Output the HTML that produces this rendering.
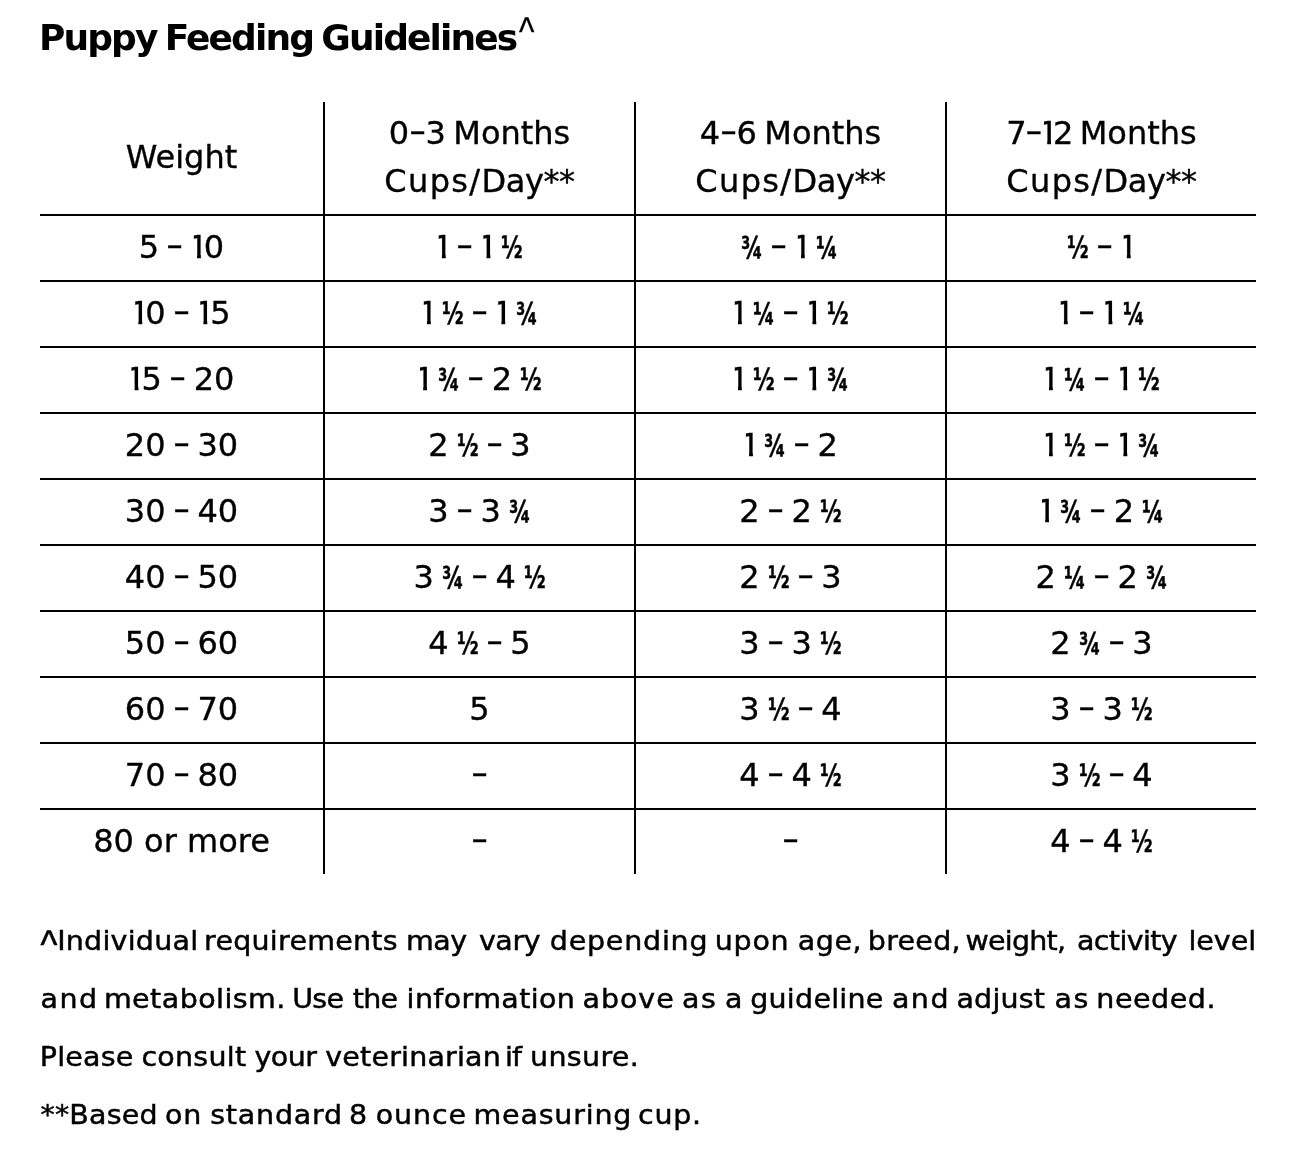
<!DOCTYPE html>
<html lang="en">
<head>
<meta charset="utf-8">
<title>Puppy Feeding Guidelines</title>
<style>
html,body{margin:0;padding:0;background:#fff;}
body{width:1304px;height:1156px;position:relative;overflow:hidden;color:#000;
 font-family:"DejaVu Sans","Liberation Sans",sans-serif;}
.title{position:absolute;left:39px;top:10.7px;margin:0;font-family:"DejaVu Sans","Liberation Sans",sans-serif;
 font-weight:bold;font-size:36px;line-height:54px;white-space:nowrap;letter-spacing:-1.9px;word-spacing:-2.3px;}
.title sup{display:inline-block;font-family:"Liberation Sans",sans-serif;font-weight:normal;font-size:32.7px;vertical-align:baseline;letter-spacing:0;line-height:0;margin-left:2.8px;transform:translateY(-7.6px) scaleY(1.25);-webkit-text-stroke:0.3px #000;}
table.feed{position:absolute;left:40px;top:102px;width:1216px;border-collapse:separate;border-spacing:0;table-layout:fixed;}
table.feed th,table.feed td{box-sizing:border-box;font-weight:normal;font-size:32px;line-height:48px;
 text-align:center;padding:6.9px 0 9.1px 0;-webkit-text-stroke:0.35px #000;border-right:2px solid #000;border-bottom:2px solid #000;white-space:nowrap;}
table.feed th{height:114px;word-spacing:-2.8px;}
.cd{letter-spacing:-0.4px;}
.c1{letter-spacing:1.35px;}
.n712{letter-spacing:-1px;}
table.feed td{height:66px;}
table.feed th:first-child,table.feed td:first-child{width:285px;}
table.feed th:nth-child(2),table.feed td:nth-child(2),table.feed th:nth-child(3),table.feed td:nth-child(3){width:311px;}
table.feed th:last-child,table.feed td:last-child{width:309px;border-right:none;}
table.feed tbody tr:last-child td{border-bottom:none;height:64px;}
.fr{display:inline-block;font-weight:bold;transform:scale(.653,.95);transform-origin:0 35.5px;margin:0 -11.5px 0 -2px;-webkit-text-stroke:0.5px #000;}
.one{display:inline-block;margin:0 -4.8px 0 -2.8px;clip-path:polygon(5.6px 0,12.6px 0,12.6px 100%,8.8px 100%,8.8px 31.5px,5.6px 31.5px);}
.hy{display:inline-block;transform:translateY(-1.8px) scale(1.5,1.0);transform-origin:50% 26.3px;}
.hh{margin:0 2.5px;}
.notes{position:absolute;left:0;top:912px;width:1304px;}
.notes p{position:relative;margin:0;height:58px;font-size:28.5px;line-height:58px;white-space:nowrap;-webkit-text-stroke:0.5px #000;transform:scaleY(.961);transform-origin:0 38.9px;}
.notes p span{position:absolute;top:0;}
.notes .car{left:40.6px;font-family:"Liberation Sans",sans-serif;font-size:36px;letter-spacing:0;-webkit-text-stroke:0.5px #000;transform:translateY(3.4px) scaleY(1.2);}

</style>
</head>
<body>
<h2 class="title">Puppy Feeding Guidelines<sup class="car">^</sup></h2>
<table class="feed">
<thead><tr><th>Weight</th><th>0<span class="hy hh">-</span>3 Months<br><span class="cd"><span class="c1">Cups/</span>Day**</span></th><th>4<span class="hy hh">-</span>6 Months<br><span class="cd"><span class="c1">Cups/</span>Day**</span></th><th><span class="n712">7<span class="hy hh">-</span><span class="one">1</span>2</span> Months<br><span class="cd"><span class="c1">Cups/</span>Day**</span></th></tr></thead>
<tbody>
<tr><td>5 <span class="hy">-</span> <span class="one">1</span>0</td><td><span class="one">1</span> <span class="hy">-</span> <span class="one">1</span> <span class="fr">½</span></td><td><span class="fr">¾</span> <span class="hy">-</span> <span class="one">1</span> <span class="fr">¼</span></td><td><span class="fr">½</span> <span class="hy">-</span> <span class="one">1</span></td></tr>
<tr><td><span class="one">1</span>0 <span class="hy">-</span> <span class="one">1</span>5</td><td><span class="one">1</span> <span class="fr">½</span> <span class="hy">-</span> <span class="one">1</span> <span class="fr">¾</span></td><td><span class="one">1</span> <span class="fr">¼</span> <span class="hy">-</span> <span class="one">1</span> <span class="fr">½</span></td><td><span class="one">1</span> <span class="hy">-</span> <span class="one">1</span> <span class="fr">¼</span></td></tr>
<tr><td><span class="one">1</span>5 <span class="hy">-</span> 20</td><td><span class="one">1</span> <span class="fr">¾</span> <span class="hy">-</span> 2 <span class="fr">½</span></td><td><span class="one">1</span> <span class="fr">½</span> <span class="hy">-</span> <span class="one">1</span> <span class="fr">¾</span></td><td><span class="one">1</span> <span class="fr">¼</span> <span class="hy">-</span> <span class="one">1</span> <span class="fr">½</span></td></tr>
<tr><td>20 <span class="hy">-</span> 30</td><td>2 <span class="fr">½</span> <span class="hy">-</span> 3</td><td><span class="one">1</span> <span class="fr">¾</span> <span class="hy">-</span> 2</td><td><span class="one">1</span> <span class="fr">½</span> <span class="hy">-</span> <span class="one">1</span> <span class="fr">¾</span></td></tr>
<tr><td>30 <span class="hy">-</span> 40</td><td>3 <span class="hy">-</span> 3 <span class="fr">¾</span></td><td>2 <span class="hy">-</span> 2 <span class="fr">½</span></td><td><span class="one">1</span> <span class="fr">¾</span> <span class="hy">-</span> 2 <span class="fr">¼</span></td></tr>
<tr><td>40 <span class="hy">-</span> 50</td><td>3 <span class="fr">¾</span> <span class="hy">-</span> 4 <span class="fr">½</span></td><td>2 <span class="fr">½</span> <span class="hy">-</span> 3</td><td>2 <span class="fr">¼</span> <span class="hy">-</span> 2 <span class="fr">¾</span></td></tr>
<tr><td>50 <span class="hy">-</span> 60</td><td>4 <span class="fr">½</span> <span class="hy">-</span> 5</td><td>3 <span class="hy">-</span> 3 <span class="fr">½</span></td><td>2 <span class="fr">¾</span> <span class="hy">-</span> 3</td></tr>
<tr><td>60 <span class="hy">-</span> 70</td><td>5</td><td>3 <span class="fr">½</span> <span class="hy">-</span> 4</td><td>3 <span class="hy">-</span> 3 <span class="fr">½</span></td></tr>
<tr><td>70 <span class="hy">-</span> 80</td><td><span class="hy">-</span></td><td>4 <span class="hy">-</span> 4 <span class="fr">½</span></td><td>3 <span class="fr">½</span> <span class="hy">-</span> 4</td></tr>
<tr><td>80 or more</td><td><span class="hy">-</span></td><td><span class="hy">-</span></td><td>4 <span class="hy">-</span> 4 <span class="fr">½</span></td></tr>
</tbody></table>
<div class="notes">
<p class="l1"><span class="car">^</span><span style="left:57.2px;letter-spacing:0.23px">Individual</span> <span style="left:204.1px;letter-spacing:0.25px">requirements</span> <span style="left:405.9px;letter-spacing:-0.4px">may</span> <span style="left:478.9px;letter-spacing:-0.4px">vary</span> <span style="left:549.8px;letter-spacing:0.78px">depending</span> <span style="left:714.8px;letter-spacing:0.73px">upon</span> <span style="left:797.8px;letter-spacing:0.53px">age,</span> <span style="left:867.8px;letter-spacing:0.28px">breed,</span> <span style="left:965.6px;letter-spacing:-0.8px">weight,</span> <span style="left:1077.0px;letter-spacing:-0.64px">activity</span> <span style="left:1188.4px;letter-spacing:0.0px">level</span></p>
<p class="l2"><span style="left:40.5px;letter-spacing:1.5px">and</span> <span style="left:103.9px;letter-spacing:0.45px">metabolism.</span> <span style="left:292.2px;letter-spacing:-0.7px">Use</span> <span style="left:352.8px;letter-spacing:-0.8px">the</span> <span style="left:406.6px;letter-spacing:0.38px">information</span> <span style="left:582.5px;letter-spacing:0.95px">above</span> <span style="left:682.1px;letter-spacing:1.4px">as</span> <span style="left:724.9px;letter-spacing:0.0px">a</span> <span style="left:750.2px;letter-spacing:0.26px">guideline</span> <span style="left:891.9px;letter-spacing:1.5px">and</span> <span style="left:956.5px;letter-spacing:0.16px">adjust</span> <span style="left:1054.5px;letter-spacing:1.5px">as</span> <span style="left:1096.3px;letter-spacing:0.55px">needed.</span></p>
<p class="l3"><span style="left:39.8px;letter-spacing:0.22px">Please</span> <span style="left:141.4px;letter-spacing:0.27px">consult</span> <span style="left:254.4px;letter-spacing:-0.53px">your</span> <span style="left:325.3px;letter-spacing:0.19px">veterinarian</span> <span style="left:505.0px;letter-spacing:-0.8px">if</span> <span style="left:530.1px;letter-spacing:0.32px">unsure.</span></p>
<p class="l4"><span style="left:40.5px;letter-spacing:0.17px">**Based</span> <span style="left:165.0px;letter-spacing:0.7px">on</span> <span style="left:210.2px;letter-spacing:0.8px">standard</span> <span style="left:349.1px;letter-spacing:0.0px">8</span> <span style="left:375.7px;letter-spacing:0.9px">ounce</span> <span style="left:473.5px;letter-spacing:0.81px">measuring</span> <span style="left:638.1px;letter-spacing:0.7px">cup.</span></p>
</div>
</body></html>
